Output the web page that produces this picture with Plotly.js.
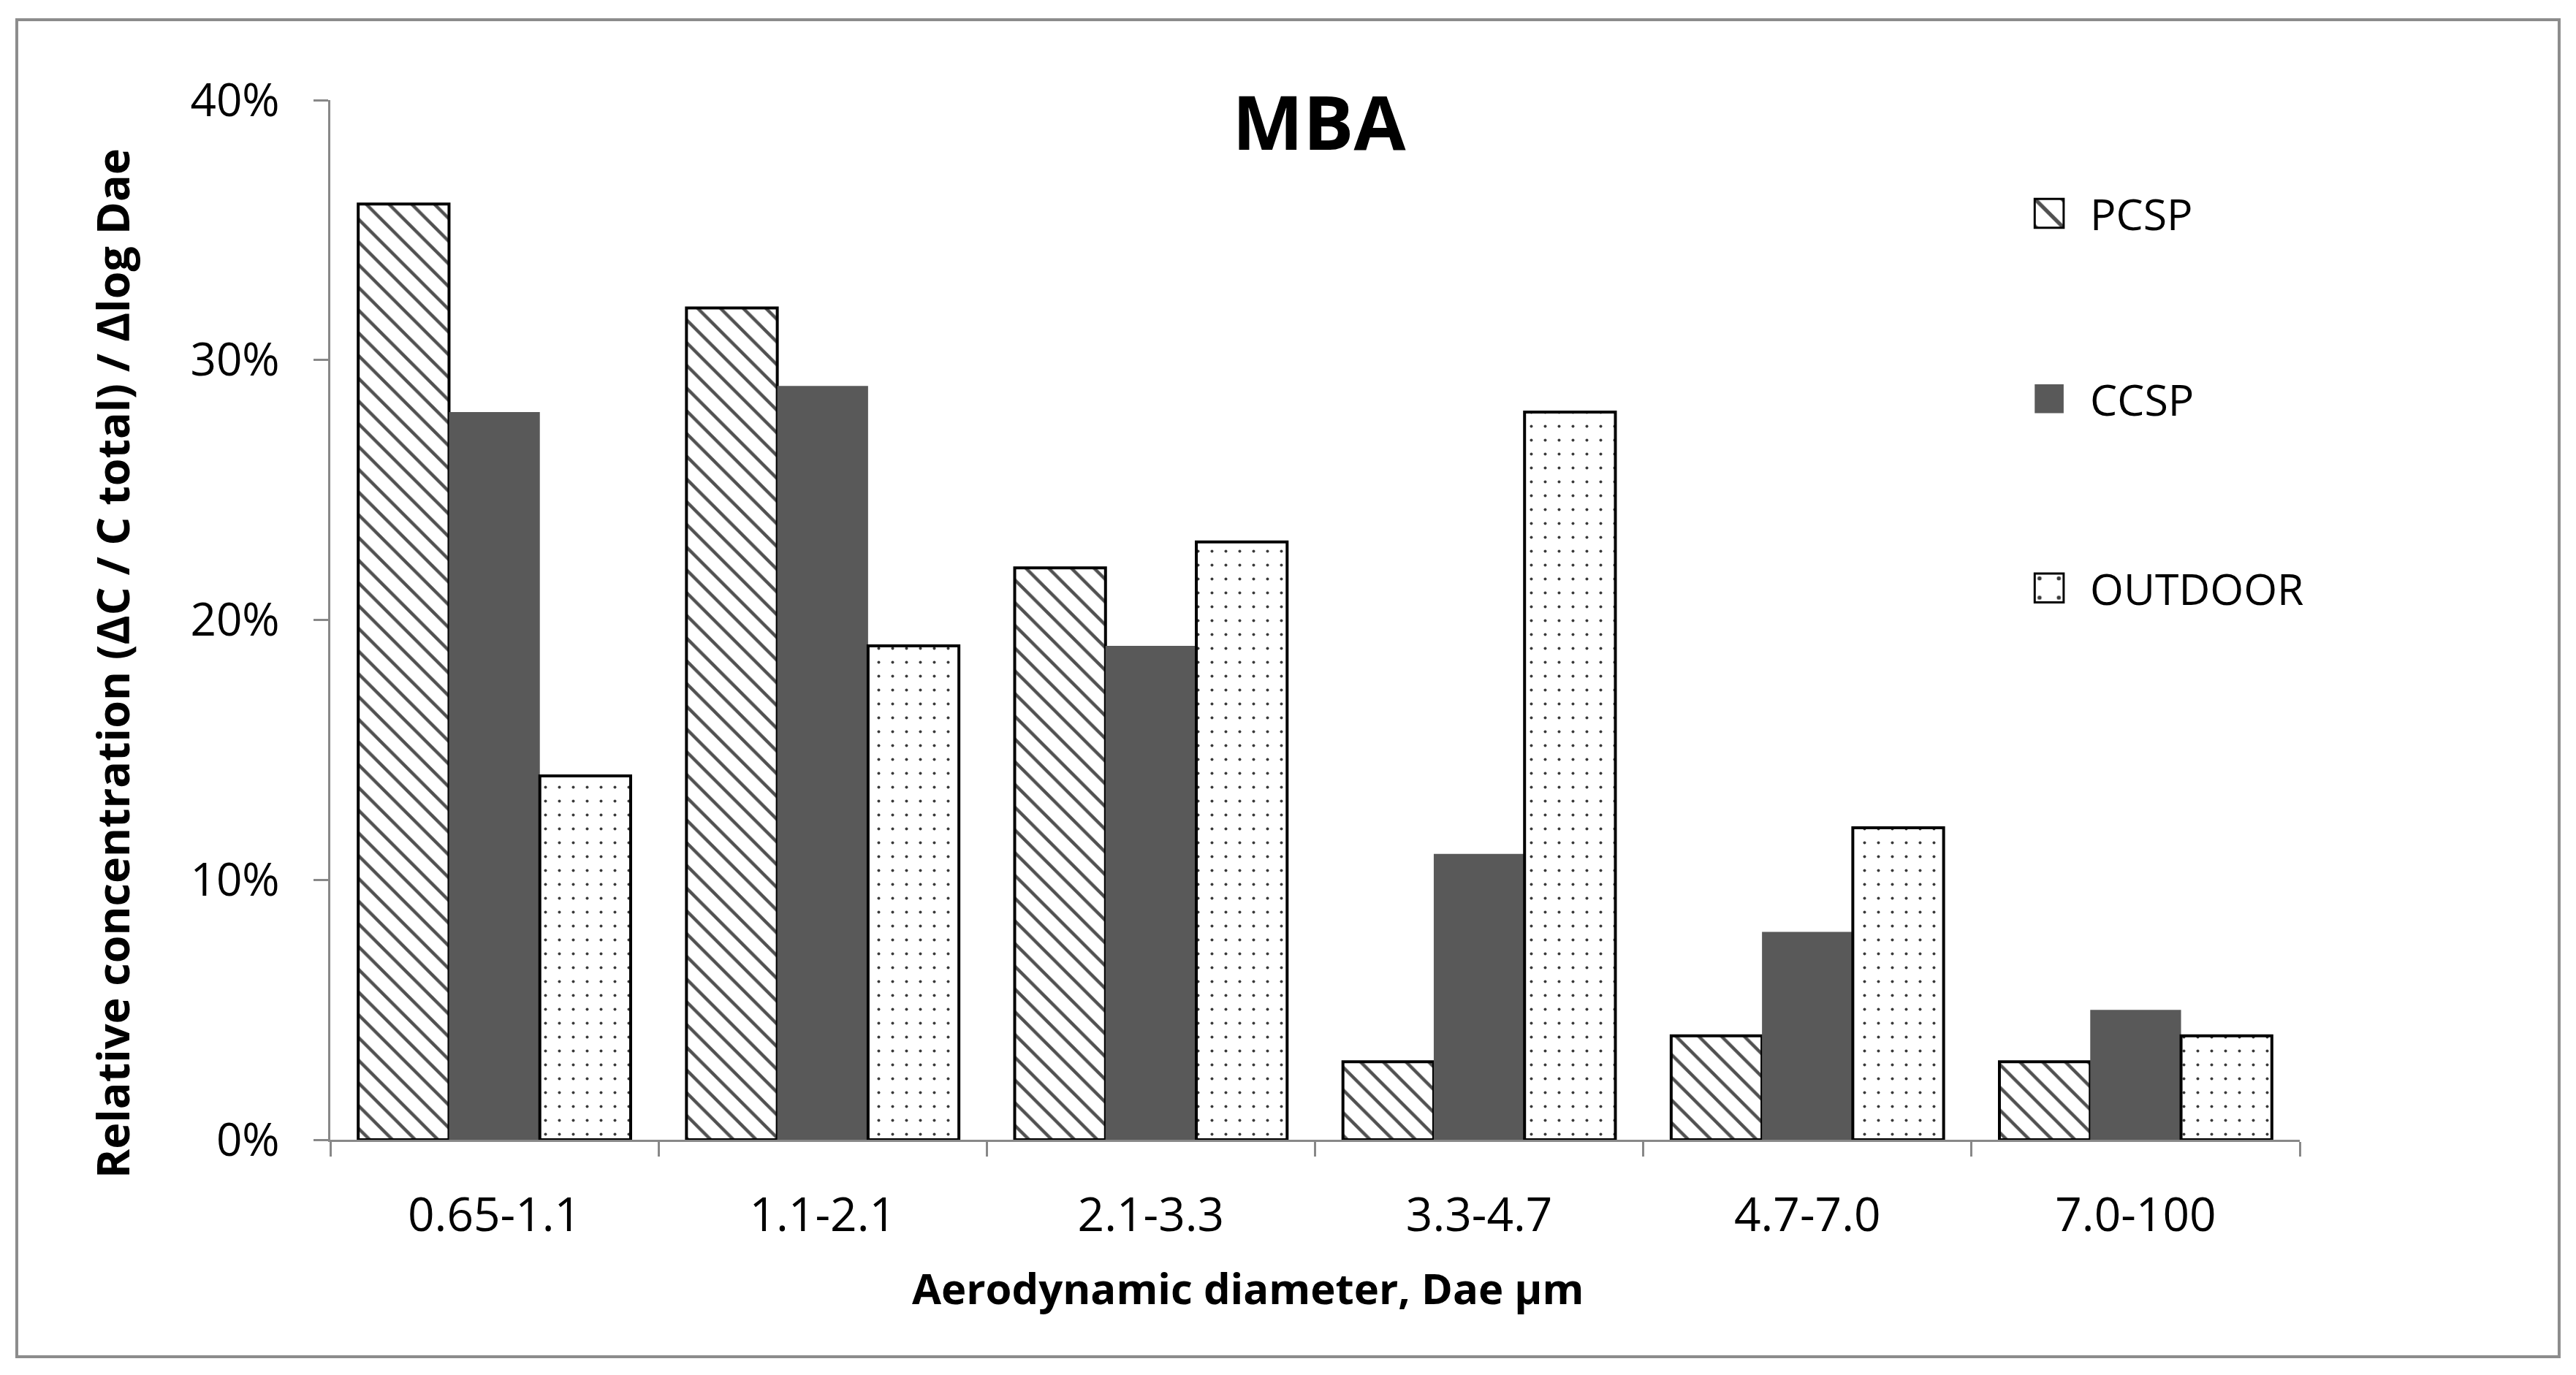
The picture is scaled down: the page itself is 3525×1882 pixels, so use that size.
<!DOCTYPE html>
<html>
<head>
<meta charset="utf-8">
<script src="https://cdn.plot.ly/plotly-3.0.1.min.js"></script>
<style>html,body{margin:0;padding:0;background:#fff;}#chart{width:3525px;height:1882px;}</style>
</head>
<body>
<div id="chart"></div>
<script>
const categories = ["0.65-1.1", "1.1-2.1", "2.1-3.3", "3.3-4.7", "4.7-7.0", "7.0-100"];
const pcsp = [36, 32, 22, 3, 4, 3];
const ccsp = [28, 29, 19, 11, 8, 5];
const outdoor = [14, 19, 23, 28, 12, 4];
const yTicks = [0, 10, 20, 30, 40];
const yTickLabels = ["0%", "10%", "20%", "30%", "40%"];
const titleText = "MBA";
const xTitleText = "Aerodynamic diameter, Dae µm";
const yTitleText = "Relative concentration (ΔC / C total) / Δlog Dae";

const FONT = "Open Sans, Lato, sans-serif";

const traces = [
  {
    type: "bar", name: "PCSP", x: categories, y: pcsp, legend: "legend",
    marker: {
      color: "white",
      line: {color: "black", width: 4},
      pattern: {shape: "\\", fgcolor: "#505050", bgcolor: "white", size: 22, solidity: 0.2}
    }
  },
  {
    type: "bar", name: "CCSP", x: categories, y: ccsp, legend: "legend2",
    marker: {color: "#595959", line: {color: "#595959", width: 0}}
  },
  {
    type: "bar", name: "OUTDOOR", x: categories, y: outdoor, legend: "legend3",
    marker: {
      color: "white",
      line: {color: "black", width: 4},
      pattern: {shape: ".", fgcolor: "#3a3a3a", bgcolor: "white", size: 19, solidity: 0.035}
    }
  }
];

const legendBase = {
  x: 0.8787, xanchor: "left", yanchor: "middle",
  bgcolor: "rgba(0,0,0,0)", borderwidth: 0,
  font: {family: FONT, size: 59, color: "black"}
};

const layout = {
  width: 3525, height: 1882,
  margin: {l: 452, r: 378, t: 137, b: 322, pad: 0},
  paper_bgcolor: "white", plot_bgcolor: "white",
  font: {family: FONT, size: 60, color: "black"},
  barmode: "group", bargap: 0.17, bargroupgap: 0,
  title: {
    text: titleText, font: {family: FONT, size: 103, weight: 700, color: "black"},
    x: 0.502, xref: "paper", xanchor: "center", y: 0.910, yref: "container", yanchor: "middle"
  },
  xaxis: {
    type: "category", tickson: "boundaries",
    showline: true, linecolor: "#888", linewidth: 3,
    ticks: "outside", ticklen: 20, tickwidth: 3, tickcolor: "#888",
    showgrid: false, zeroline: false,
    ticklabelstandoff: 45,
    tickfont: {family: FONT, size: 64, color: "black"},
    automargin: false
  },
  yaxis: {
    range: [0, 40], tickvals: yTicks, ticktext: yTickLabels,
    showline: true, linecolor: "#888", linewidth: 3,
    ticks: "outside", ticklen: 20, tickwidth: 3, tickcolor: "#888",
    showgrid: false, zeroline: false,
    ticklabelstandoff: 34,
    tickfont: {family: FONT, size: 62, color: "black"},
    automargin: false
  },
  annotations: [
    {text: xTitleText, xref: "paper", yref: "paper", x: 0.466, y: -0.142,
     xanchor: "center", yanchor: "middle", showarrow: false,
     font: {family: FONT, size: 58, weight: 700, color: "black"}},
    {text: yTitleText, xref: "paper", yref: "paper", x: -0.111, y: 0.458,
     xanchor: "center", yanchor: "middle", showarrow: false, textangle: -90,
     font: {family: FONT, size: 61, weight: 700, color: "black"}}
  ],
  legend: Object.assign({}, legendBase, {y: 0.891}),
  legend2: Object.assign({}, legendBase, {y: 0.7126}),
  legend3: Object.assign({}, legendBase, {y: 0.5306}),
  showlegend: true,
  shapes: [
    {type: "rect", xref: "paper", yref: "paper",
     x0: -0.1592, x1: 1.1317, y0: -0.2087, y1: 1.0773,
     line: {color: "#8c8c8c", width: 4}, fillcolor: "rgba(0,0,0,0)", layer: "below"}
  ]
};

Plotly.newPlot("chart", traces, layout, {staticPlot: true}).then(function () {
  document.querySelectorAll(".infolayer g[clip-path], .infolayer .scrollbox").forEach(function (g) {
    g.removeAttribute("clip-path");
  });
  document.querySelectorAll(".legendpoints path").forEach(function (p) {
    p.setAttribute("transform", "translate(-16,0) scale(3.3)");
    p.style.strokeWidth = "0.9px";
  });
});
</script>
</body>
</html>
